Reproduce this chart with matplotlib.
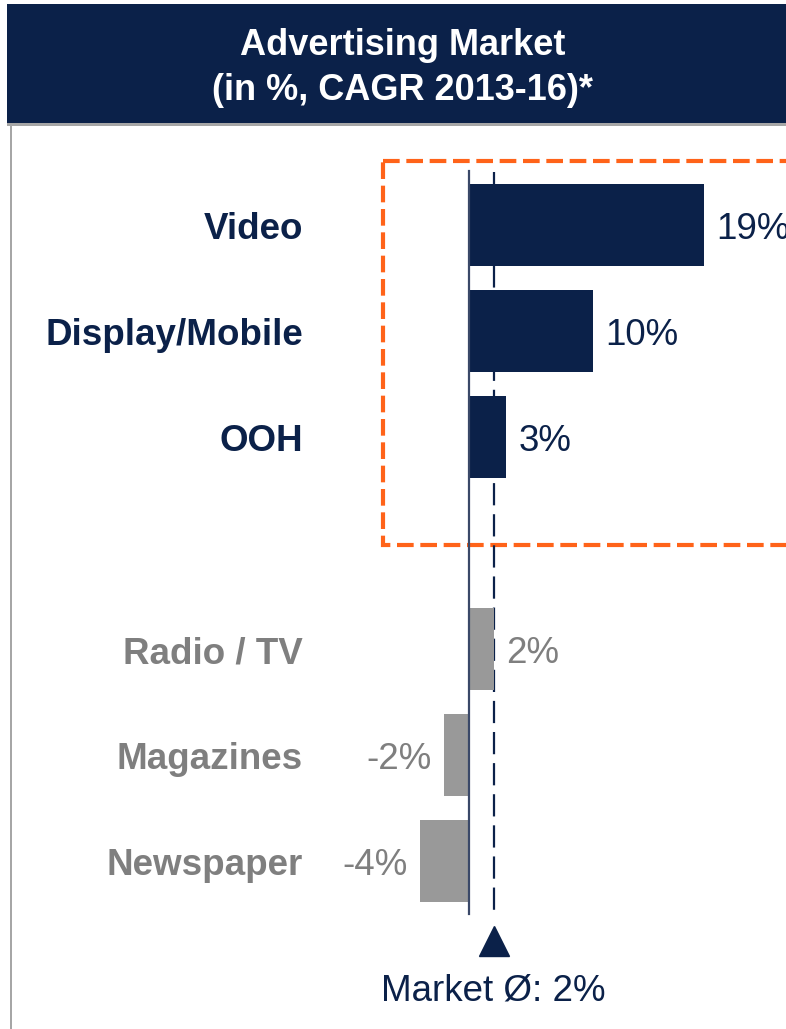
import matplotlib
matplotlib.use("Agg")
import matplotlib.pyplot as plt
from matplotlib.patches import Rectangle

plt.rcParams["font.family"] = ["Liberation Sans", "DejaVu Sans"]

# Data
categories = ["Video", "Display/Mobile", "OOH", "Radio / TV", "Magazines", "Newspaper"]
values = [19, 10, 3, 2, -2, -4]
slots = [0, 1, 2, 4, 5, 6]
highlight = [True, True, True, False, False, False]
market_avg = 2

navy = "#0B2149"
gray_bar = "#999999"
gray_txt = "#7F7F7F"
orange = "#FF6319"
fs = 26.5

W, H = 786, 1029
fig = plt.figure(figsize=(W / 100, H / 100), dpi=100)

# header bar
fig.patches.append(Rectangle((7 / W, 1 - 123 / H), 1, 119 / H, transform=fig.transFigure,
                             facecolor=navy, edgecolor="none", zorder=0))
fig.patches.append(Rectangle((7 / W, 1 - 126 / H), 1, 3 / H, transform=fig.transFigure,
                             facecolor="#A6A6A6", edgecolor="none", zorder=0))
fig.patches.append(Rectangle((9.5 / W, 0), 2.2 / W, 1 - 124 / H, transform=fig.transFigure,
                             facecolor="#A6A6A6", edgecolor="none", zorder=0))
fig.text(403 / W, 1 - 55 / H, "Advertising Market", color="white", fontsize=26,
         fontweight="bold", ha="center", va="baseline")
fig.text(403 / W, 1 - 100 / H, "(in %, CAGR 2013-16)*", color="white", fontsize=26,
         fontweight="bold", ha="center", va="baseline")

# main axes, pixel-matched scale
px_per_pct = 12.35
slot_px = 106
zero_px, top_px = 469, 225
ax = fig.add_axes([0, 0, 1, (H - 126) / H])
ax.set_xlim(-zero_px / px_per_pct, (W - zero_px) / px_per_pct)
ax.set_ylim((H - top_px) / slot_px, (126 - top_px) / slot_px)
ax.axis("off")
ax.patch.set_alpha(0)

def ypx(p):
    return (p - top_px) / slot_px

base_off = 14 / slot_px  # baseline offset below bar centre

# orange highlight box
ax.add_patch(Rectangle((-7.0, ypx(161)), 40, ypx(545) - ypx(161), fill=False,
                       edgecolor=orange, linewidth=3, linestyle=(0, (4, 1.6)), zorder=1))

# market average dashed line + zero line
ax.plot([market_avg, market_avg], [ypx(172), ypx(914)], color=navy, lw=1.6,
        linestyle=(0, (10, 4)), zorder=2)
ax.plot([0, 0], [ypx(171), ypx(914)], color="#3A4868", lw=1.6, zorder=4)

bar_colors = [navy if h else gray_bar for h in highlight]
ax.barh(slots, values, height=82 / slot_px, color=bar_colors, zorder=3)

for s, v, c, h in zip(slots, values, categories, highlight):
    tcol = navy if h else gray_txt
    ax.text(303 / px_per_pct - zero_px / px_per_pct, s + base_off, c, ha="right",
            va="baseline", fontsize=fs, fontweight="bold", color=tcol)
    lab = f"{v}%"
    if v >= 0:
        ax.text(v + 1.0, s + base_off, lab, ha="left", va="baseline", fontsize=fs, color=tcol)
    else:
        ax.text(v - 1.0, s + base_off, lab, ha="right", va="baseline", fontsize=fs, color=tcol)

# market marker
ax.plot([market_avg], [ypx(941)], marker="^", markersize=22, color=navy,
        linestyle="none", clip_on=False)
ax.text(market_avg, ypx(1000), f"Market Ø: {market_avg}%", ha="center", va="baseline",
        fontsize=fs, color=navy)

fig.savefig("out.png", dpi=100)
